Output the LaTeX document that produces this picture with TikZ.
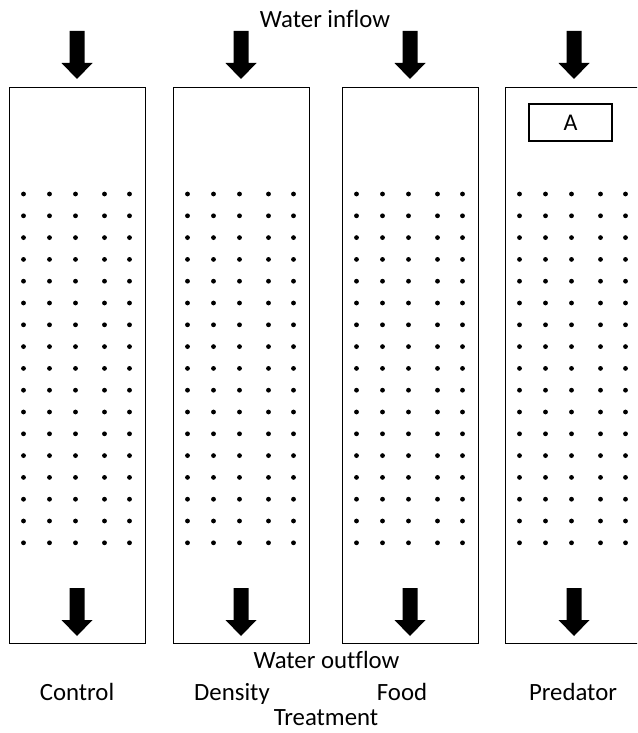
\documentclass[tikz,border=0pt]{standalone}
\usepackage{fontspec}
\setmainfont{Carlito}[Ligatures=NoCommon]
\begin{document}
\begin{tikzpicture}[x=1pt,y=-1pt,
  tank/.style={draw, line width=1.1pt, minimum width=136pt, minimum height=556pt, inner sep=0pt, anchor=north west},
  labelbox/.style={draw, line width=1.1pt, minimum width=83pt, minimum height=37pt, inner sep=0pt, font=\fontsize{24}{28}\selectfont},
  lbl/.style={font=\fontsize{24.8}{29}\selectfont, anchor=base, inner sep=0pt},
  flow/.pic={\fill (-7.5,0) -- (7.5,0) -- (7.5,32) -- (15.5,32) -- (0,48) -- (-15.5,32) -- (-7.5,32) -- cycle;}]
\useasboundingbox (0,0) rectangle (637,733);
\begin{scope}
\clip (0,0) rectangle (637,733);
\node[tank] (t1) at (9,87) {};
\node[tank] (t2) at (173,87) {};
\node[tank] (t3) at (342,87) {};
\node[tank] (t4) at (505,87) {};
\foreach \bx in {9,173,342,505}{
  \foreach \dx in {14.5,40.5,66.5,95.5,120.5}{
    \foreach \k in {0,...,16}{
      \fill (\bx+\dx,194+21.8*\k) circle (2.4pt);
    }
  }
}
\foreach \cx in {77,241,410,574}{
  \pic at (\cx,31) {flow};
  \pic at (\cx,588) {flow};
}
\node[labelbox] (pa) at (570.5,122.5) {A};
\end{scope}
\node[lbl] (win) at (325,28) {Water inflow};
\node[lbl] (wout) at (326.5,668) {Water outflow};
\node[lbl] (c1) at (77,700) {Control};
\node[lbl] (c2) at (232,700) {Density};
\node[lbl] (c3) at (402,700) {Food};
\node[lbl] (c4) at (573,700) {Predator};
\node[lbl] (tr) at (326,725) {Treatment};
\end{tikzpicture}
\end{document}
